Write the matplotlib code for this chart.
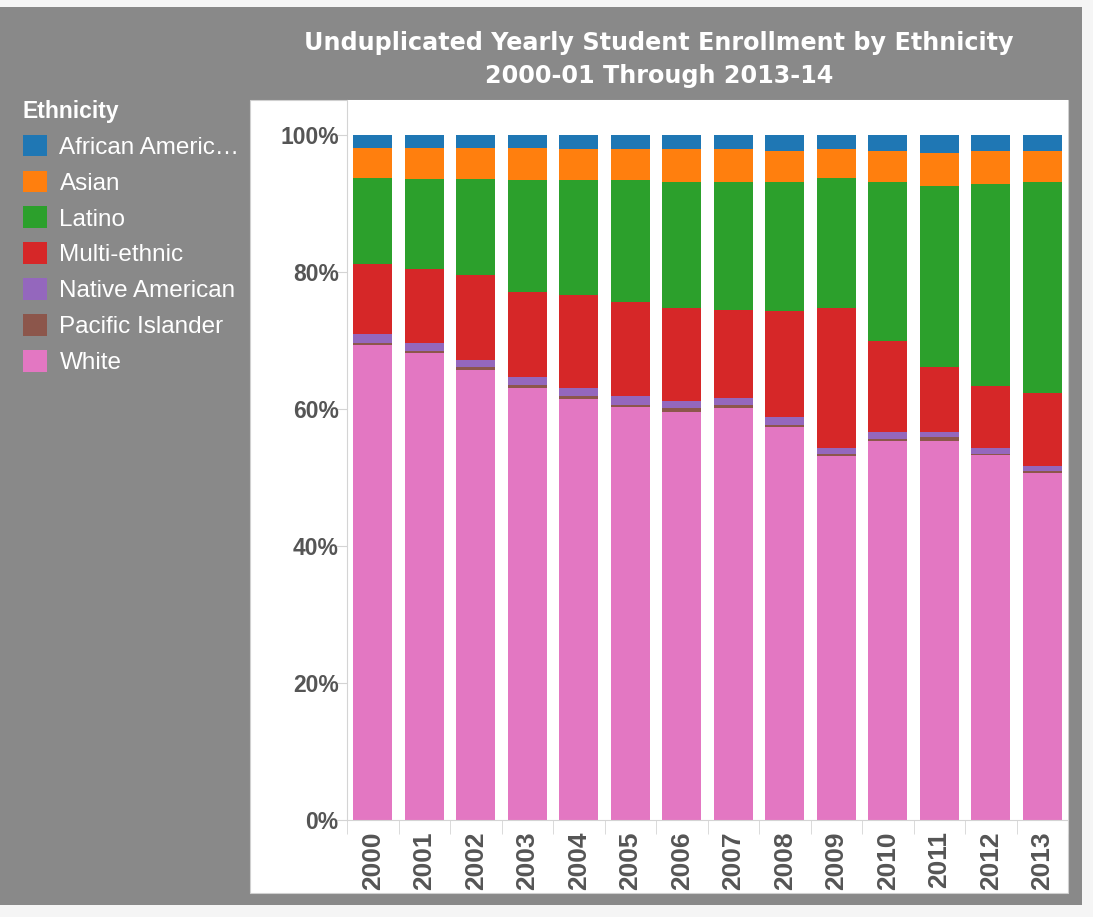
import matplotlib.pyplot as plt
from matplotlib.patches import Rectangle
import numpy as np

plt.rcParams['font.family'] = ['Liberation Sans', 'DejaVu Sans']

years = ["2000", "2001", "2002", "2003", "2004", "2005", "2006",
         "2007", "2008", "2009", "2010", "2011", "2012", "2013"]

# percent of yearly enrollment
white = [69.3, 68.2, 65.7, 63.0, 61.5, 60.3, 59.6, 60.2, 57.3, 53.1, 55.4, 55.4, 53.3, 50.6]
pacific = [0.4, 0.3, 0.4, 0.5, 0.4, 0.3, 0.5, 0.4, 0.4, 0.4, 0.2, 0.5, 0.2, 0.4]
native = [1.2, 1.1, 1.1, 1.1, 1.1, 1.3, 1.1, 1.05, 1.1, 0.8, 1.0, 0.7, 0.8, 0.7]
multi = [10.2, 10.9, 12.3, 12.5, 13.6, 13.7, 13.6, 12.85, 15.5, 20.5, 13.4, 9.5, 9.1, 10.7]
latino = [12.55, 13.1, 14.1, 16.3, 16.8, 17.8, 18.3, 18.6, 18.8, 18.85, 23.1, 26.5, 29.4, 30.7]
asian = [4.45, 4.5, 4.5, 4.7, 4.5, 4.5, 4.8, 4.8, 4.6, 4.25, 4.6, 4.8, 4.9, 4.6]
african = [1.9, 1.9, 1.9, 1.9, 2.1, 2.1, 2.1, 2.1, 2.3, 2.1, 2.3, 2.6, 2.3, 2.3]

# bottom to top
series = [
    ("White", white, "#e377c2"),
    ("Pacific Islander", pacific, "#8c564b"),
    ("Native American", native, "#9467bd"),
    ("Multi-ethnic", multi, "#d62728"),
    ("Latino", latino, "#2ca02c"),
    ("Asian", asian, "#ff7f0e"),
    ("African American", african, "#1f77b4"),
]
legend_labels = {"African American": "African Americ\u2026"}

W, H = 1093, 917
fig = plt.figure(figsize=(W / 100, H / 100), dpi=100, facecolor="#f5f5f5")

# gray dashboard panel and white chart pane
fig.patches.append(Rectangle((0, 12 / H), 1082 / W, 898 / H, transform=fig.transFigure,
                             facecolor="#898989", edgecolor="none", zorder=-2))
fig.patches.append(Rectangle((250 / W, 24 / H), 818 / W, 793 / H, transform=fig.transFigure,
                             facecolor="white", edgecolor="#d0d0d0", lw=0.8, zorder=-1))

ax = fig.add_axes([347 / W, 97 / H, 721 / W, 720 / H])
ax.set_facecolor("white")

x = np.arange(len(years))
bottom = np.zeros(len(years))
handles = {}
for name, vals, col in series:
    vals = np.array(vals)
    b = ax.bar(x, vals, bottom=bottom, width=0.76, color=col, edgecolor="none")
    handles[name] = b
    bottom += vals

ax.set_xlim(-0.5, len(years) - 0.5)
ax.set_ylim(0, 100 * 720 / 685)

for s in ["top", "right"]:
    ax.spines[s].set_visible(False)
ax.spines["left"].set_color("#d4d4d4")
ax.spines["bottom"].set_color("#d4d4d4")

ax.set_yticks([0, 20, 40, 60, 80, 100])
ax.set_yticklabels(["0%", "20%", "40%", "60%", "80%", "100%"])
ax.tick_params(axis="y", direction="out", length=8, color="#d4d4d4",
               labelsize=16.5, labelcolor="#555555", pad=-2)
for t in ax.get_yticklabels():
    t.set_fontweight("bold")

ax.set_xticks(x)
ax.set_xticklabels(years, rotation=90, fontsize=19, fontweight="bold", color="#555555")
ax.tick_params(axis="x", which="major", length=0, pad=8)
ax.set_xticks(np.arange(-0.5, len(years)), minor=True)
ax.tick_params(axis="x", which="minor", length=10, color="#d4d4d4")

fig.text(659 / W, 1 - 59.5 / H,
         "Unduplicated Yearly Student Enrollment by Ethnicity\n2000-01 Through 2013-14",
         ha="center", va="center", color="white", fontsize=17.2, fontweight="bold",
         family="DejaVu Sans", linespacing=1.5)

order = ["African American", "Asian", "Latino", "Multi-ethnic",
         "Native American", "Pacific Islander", "White"]
leg = fig.legend([handles[n] for n in order], [legend_labels.get(n, n) for n in order],
                 loc="upper left", bbox_to_anchor=(23 / W, 1 - 100 / H),
                 frameon=False, fontsize=17.5, labelcolor="white",
                 title="Ethnicity", title_fontproperties={"weight": "bold", "size": 16.5},
                 alignment="left", handlelength=1.0, handleheight=1.0,
                 handletextpad=0.5, labelspacing=0.48, borderpad=0, borderaxespad=0)
leg.get_title().set_color("white")

fig.savefig("out.png", dpi=100, facecolor=fig.get_facecolor())
